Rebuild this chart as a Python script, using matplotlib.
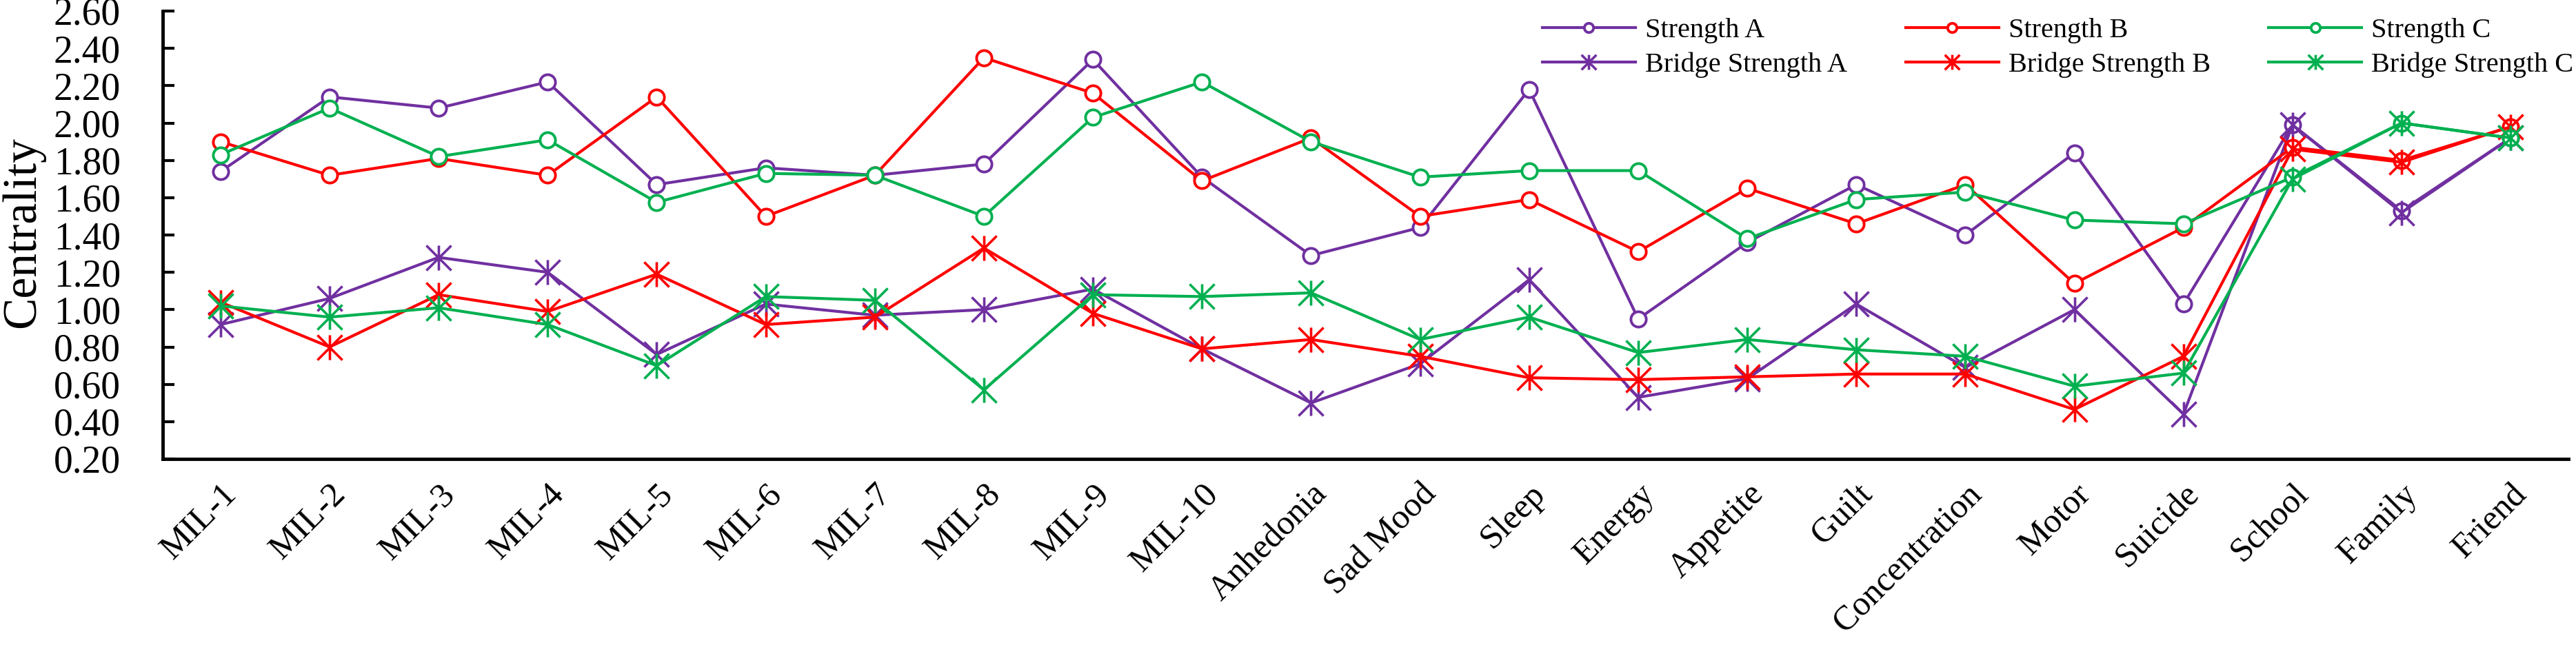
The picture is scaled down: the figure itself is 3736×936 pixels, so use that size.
import matplotlib
matplotlib.use("Agg")
import matplotlib.pyplot as plt
from matplotlib.path import Path

categories = ["MIL-1", "MIL-2", "MIL-3", "MIL-4", "MIL-5", "MIL-6", "MIL-7", "MIL-8",
              "MIL-9", "MIL-10", "Anhedonia", "Sad Mood", "Sleep", "Energy", "Appetite",
              "Guilt", "Concentration", "Motor", "Suicide", "School", "Family", "Friend"]

strength_a = [1.74, 2.14, 2.08, 2.22, 1.67, 1.76, 1.72, 1.78, 2.34, 1.71, 1.29, 1.44,
              2.18, 0.95, 1.36, 1.67, 1.40, 1.84, 1.03, 1.99, 1.53, 1.92]
strength_b = [1.90, 1.72, 1.81, 1.72, 2.14, 1.50, 1.72, 2.35, 2.16, 1.69, 1.92, 1.50,
              1.59, 1.31, 1.65, 1.46, 1.67, 1.14, 1.44, 1.87, 1.80, 1.98]
strength_c = [1.83, 2.08, 1.82, 1.91, 1.575, 1.73, 1.72, 1.50, 2.03, 2.22, 1.90, 1.71,
              1.745, 1.745, 1.38, 1.59, 1.63, 1.48, 1.46, 1.71, 2.00, 1.92]
bridge_a = [0.92, 1.06, 1.28, 1.20, 0.76, 1.03, 0.97, 1.00, 1.11, 0.79, 0.50, 0.71,
            1.16, 0.53, 0.63, 1.03, 0.69, 1.00, 0.44, 1.99, 1.52, 1.92]
bridge_b = [1.04, 0.80, 1.08, 0.99, 1.19, 0.92, 0.96, 1.33, 0.98, 0.79, 0.84, 0.75,
            0.635, 0.625, 0.64, 0.655, 0.655, 0.465, 0.75, 1.86, 1.79, 1.98]
bridge_c = [1.02, 0.96, 1.01, 0.92, 0.70, 1.07, 1.05, 0.57, 1.08, 1.07, 1.09, 0.84,
            0.96, 0.77, 0.84, 0.785, 0.75, 0.59, 0.66, 1.70, 2.00, 1.92]

yticks = [0.20, 0.40, 0.60, 0.80, 1.00, 1.20, 1.40, 1.60, 1.80, 2.00, 2.20, 2.40, 2.60]

PURPLE = "#7030A0"
RED = "#FF0000"
GREEN = "#00B050"

star = Path([(0, -1), (0, 1), (-1, -1), (1, 1), (-1, 1), (1, -1)],
            [Path.MOVETO, Path.LINETO, Path.MOVETO, Path.LINETO, Path.MOVETO, Path.LINETO])

plt.rcParams["font.family"] = ["Liberation Serif", "DejaVu Serif"]

fig = plt.figure(figsize=(37.36, 9.36), dpi=100)
ax = fig.add_axes([236 / 3736, 1 - 666 / 936, (3725 - 236) / 3736, (666 - 16) / 936])

x = list(range(len(categories)))
lw = 3.0
circ_kw = dict(marker="o", ms=16, mew=2.8, mfc="white", lw=lw)
star_kw = dict(marker=star, ms=26, mew=2.6, lw=lw)

ax.plot(x, strength_a, color=PURPLE, mec=PURPLE, label="Strength A", **circ_kw)
ax.plot(x, bridge_a, color=PURPLE, mec=PURPLE, label="Bridge Strength A", **star_kw)
ax.plot(x, strength_b, color=RED, mec=RED, label="Strength B", **circ_kw)
ax.plot(x, bridge_b, color=RED, mec=RED, label="Bridge Strength B", **star_kw)
ax.plot(x, strength_c, color=GREEN, mec=GREEN, label="Strength C", **circ_kw)
ax.plot(x, bridge_c, color=GREEN, mec=GREEN, label="Bridge Strength C", **star_kw)

ax.set_xlim(-0.53, len(categories) - 0.47)
ax.set_ylim(0.2, 2.6)
ax.set_yticks(yticks)
ax.set_yticklabels([f"{v:.2f}" for v in yticks], fontsize=40)
ax.set_xticks(x)
ax.set_xticklabels(categories, fontsize=36, rotation=45,
                   ha="right", va="top", rotation_mode="anchor")
ax.tick_params(axis="y", direction="in", length=12, width=3, pad=44)
ax.tick_params(axis="x", length=0, pad=20)

for s in ["top", "right"]:
    ax.spines[s].set_visible(False)
for s in ["left", "bottom"]:
    ax.spines[s].set_linewidth(3.5)
    ax.spines[s].set_color("black")

fig.text(33 / 3736, 1 - 337 / 936, "Centrality", rotation=90, fontsize=50,
         ha="center", va="center")

handles, labels = ax.get_legend_handles_labels()
order = [0, 2, 4, 1, 3, 5]
handles = [handles[i] for i in order]
labels = [labels[i] for i in order]
# ncol=3 fills column-wise; reorder so rows read Strength / Bridge Strength
col_order = [0, 3, 1, 4, 2, 5]
leg = fig.legend([handles[i] for i in col_order], [labels[i] for i in col_order],
                 ncol=3, loc="upper left", bbox_to_anchor=(2237 / 3736, 1 - 26 / 936),
                 frameon=False, fontsize=29, handlelength=3.35, handletextpad=0.35,
                 columnspacing=2.1, borderpad=0, borderaxespad=0, labelspacing=0.3,
                 markerscale=0.6)

fig.savefig("out.png", dpi=100)
